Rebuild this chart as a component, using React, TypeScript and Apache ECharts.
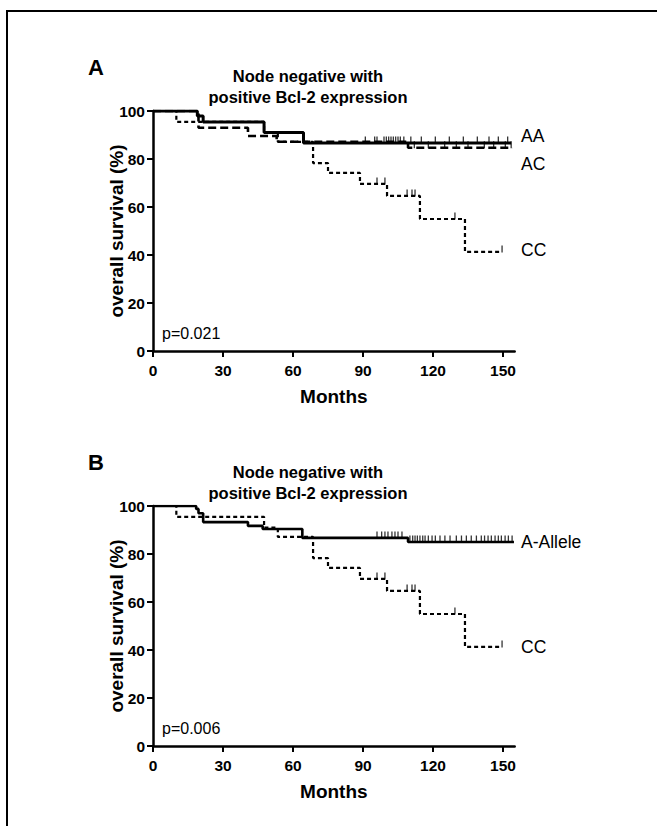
import React, { useEffect, useRef } from "react";
import * as echarts from "echarts";

// ---- tick labels ----
const xTicks = [0, 30, 60, 90, 120, 150];
const yTicks = [0, 20, 40, 60, 80, 100];

// ---- Panel A curves [months, survival %] ----
const aaA = [[0, 100], [19, 97.9], [21.5, 95.4], [47.6, 91], [64.5, 86.7], [153.5, 86.7]];
const acA = [[0, 100], [19.5, 93], [40.7, 89.6], [53, 87.2], [109.3, 84.7], [154, 84.7]];
const ccCurve = [[0, 100], [10, 95.5], [47.6, 91], [53.5, 87.1], [68.6, 78.3], [75, 74.2], [88.7, 69.6], [100.3, 64.6], [114.4, 55], [133.7, 41.3], [149.6, 41.3]];

// ---- Panel B curves ----
const aAlleleB = [[0, 100], [18.5, 98.8], [19.5, 97], [21.5, 93.3], [40.7, 91.7], [47, 90.4], [64, 86.7], [109.3, 85], [154.7, 85]];

// ---- censor marks ----
const aaCensorTimes = [91, 95, 96, 99, 100, 101, 102, 103, 104, 105, 106, 107.5, 110.5, 115, 121, 127, 133, 139, 144, 148, 152];
const aaCensorValue = 86.7;
const acCensorTimes = [112, 118, 125, 130, 135, 142, 146, 151, 153.5];
const acCensorValue = 84.7;
const ccCensor = [[96, 69.6], [99.4, 69.6], [108.9, 64.6], [111, 64.6], [112.3, 64.6], [129.4, 55], [149.6, 41.3]];
const aAlleleCensorEarly = [96, 98, 99.4, 100.7, 102.4, 103.7, 105, 106.7];
const aAlleleEarlyValue = 86.7;
const aAlleleCensorLate = [110.1, 111.3, 112.3, 113.3, 114.4, 115.6, 116.6, 118, 119.6, 121, 123, 125.1, 127.3, 130, 132.2, 134.3, 136.4, 138.6, 140.7, 142.1, 143.6, 145, 146.6, 148, 149.3, 150.9, 152.3, 153.9];
const aAlleleLateValue = 85;

const FONT = "'Liberation Sans', Arial, Helvetica, sans-serif";

function xAxisCfg(gridIndex: number) {
  return {
    type: "value",
    gridIndex,
    min: 0,
    max: 155,
    interval: 30,
    name: "Months",
    nameLocation: "middle",
    nameGap: 36,
    nameMoveOverlap: false,
    nameTextStyle: { fontFamily: FONT, fontSize: 19, fontWeight: "bold", color: "#000" },
    axisLine: { show: true, onZero: false, lineStyle: { color: "#000", width: 2.5 } },
    axisTick: { show: true, length: 6, lineStyle: { color: "#000", width: 2 }, customValues: xTicks },
    axisLabel: { fontFamily: FONT, fontSize: 15.5, fontWeight: "bold", color: "#000", margin: 11, customValues: xTicks },
    splitLine: { show: false },
  };
}

function yAxisCfg(gridIndex: number) {
  return {
    type: "value",
    gridIndex,
    min: 0,
    max: 100,
    interval: 20,
    name: "overall survival (%)",
    nameLocation: "middle",
    nameGap: 27,
    nameMoveOverlap: false,
    nameTextStyle: { fontFamily: FONT, fontSize: 19, fontWeight: "bold", color: "#000" },
    axisLine: { show: true, lineStyle: { color: "#000", width: 2.5 } },
    axisTick: { show: true, length: 6, lineStyle: { color: "#000", width: 2 } },
    axisLabel: { fontFamily: FONT, fontSize: 15.5, fontWeight: "bold", color: "#000", margin: 8 },
    splitLine: { show: false },
  };
}

function stepLine(data: number[][], idx: number, width: number, type: any) {
  return {
    type: "line",
    xAxisIndex: idx,
    yAxisIndex: idx,
    data,
    step: "end",
    showSymbol: false,
    symbol: "none",
    lineStyle: { color: "#000", width, type },
    z: 3,
  };
}

function censor(data: number[][], idx: number) {
  return {
    type: "scatter",
    xAxisIndex: idx,
    yAxisIndex: idx,
    data,
    symbol: "rect",
    symbolSize: [1.3, 7],
    symbolOffset: [0, -3],
    itemStyle: { color: "#000" },
    z: 4,
  };
}

function txt(text: string, x: number, y: number, size: number, bold: boolean, align = "left", lineHeight?: number) {
  return {
    type: "text",
    x,
    y,
    style: {
      text,
      fontFamily: FONT,
      fontSize: size,
      fontWeight: bold ? "bold" : "normal",
      fill: "#000",
      textAlign: align,
      textVerticalAlign: "middle",
      lineHeight: lineHeight || size * 1.2,
    },
  };
}

export default function App() {
  const ref = useRef<HTMLDivElement>(null);
  useEffect(() => {
    if (!ref.current) return;
    const chart = echarts.init(ref.current, null, { renderer: "svg" });
    const plotW = (155 * 70) / 30;
    const title = "Node negative with\npositive Bcl-2 expression";
    chart.setOption({
      animation: false,
      backgroundColor: "#fff",
      grid: [
        { left: 153, top: 111, width: plotW, height: 240 },
        { left: 153, top: 506, width: plotW, height: 240 },
      ],
      xAxis: [xAxisCfg(0), xAxisCfg(1)],
      yAxis: [yAxisCfg(0), yAxisCfg(1)],
      series: [
        stepLine(ccCurve, 0, 2.2, [4, 3]),
        stepLine(acA, 0, 2.6, [8, 4]),
        stepLine(aaA, 0, 3, "solid"),
        censor(aaCensorTimes.map((t) => [t, aaCensorValue]), 0),
        censor(acCensorTimes.map((t) => [t, acCensorValue]), 0),
        censor(ccCensor, 0),
        stepLine(ccCurve, 1, 2.2, [4, 3]),
        stepLine(aAlleleB, 1, 2.6, "solid"),
        censor(aAlleleCensorEarly.map((t) => [t, aAlleleEarlyValue]), 1),
        censor(aAlleleCensorLate.map((t) => [t, aAlleleLateValue]), 1),
        censor(ccCensor, 1),
      ],
      graphic: [
        {
          type: "rect",
          shape: { x: 7, y: 11, width: 800, height: 1000 },
          style: { fill: "none", stroke: "#000", lineWidth: 2 },
          silent: true,
        },
        txt("A", 88, 67, 22, true),
        txt(title, 308, 86.5, 16.5, true, "center", 21),
        txt("p=0.021", 162, 333, 16, false),
        txt("AA", 521, 136, 17.5, false),
        txt("AC", 521, 164, 17.5, false),
        txt("CC", 521, 250, 17.5, false),
        txt("B", 88, 462, 22, true),
        txt(title, 308, 482, 16.5, true, "center", 21),
        txt("p=0.006", 162, 728, 16, false),
        txt("A-Allele", 521, 542, 17.5, false),
        txt("CC", 521, 647, 17.5, false),
      ],
    });
    return () => chart.dispose();
  }, []);
  return (
    <div
      ref={ref}
      style={{ position: "absolute", left: 0, top: 0, width: 657, height: 826, background: "#fff" }}
    />
  );
}
